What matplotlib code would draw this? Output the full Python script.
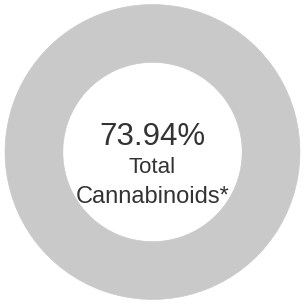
import matplotlib.pyplot as plt

# donut data
labels = ["Total Cannabinoids", "Other"]
values = [73.94, 26.06]
center_value = "73.94%"
center_lines = ["Total", "Cannabinoids*"]

plt.rcParams['font.family'] = ['Liberation Sans', 'DejaVu Sans']

fig = plt.figure(figsize=(3.05, 3.04), dpi=100)
ax = fig.add_axes([0.0, 0.0, 1.0, 1.0])

ring = "#c9c9c9"
ax.pie(values, colors=[ring, ring], startangle=90, counterclock=False,
       radius=0.97, wedgeprops=dict(width=0.38, edgecolor=ring, linewidth=0.5))

ax.text(0, 0.10, center_value, ha="center", va="center", fontsize=22.5, color="#333333")
ax.text(0, -0.10, center_lines[0], ha="center", va="center", fontsize=16, color="#333333")
ax.text(0, -0.295, center_lines[1], ha="center", va="center", fontsize=17, color="#333333")

ax.set_xlim(-1, 1)
ax.set_ylim(-1, 1)
ax.set_aspect("equal")
ax.axis("off")

plt.savefig("out.png", dpi=100)
